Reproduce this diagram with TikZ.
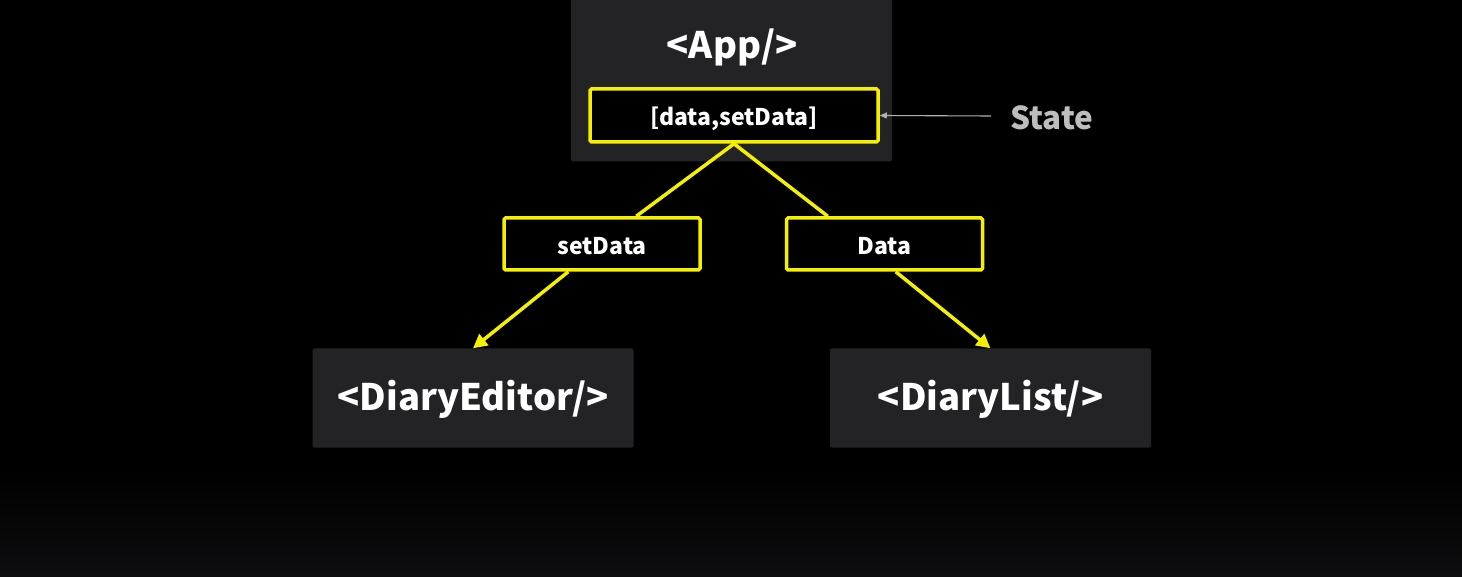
\documentclass[tikz,border=0pt]{standalone}
\usepackage{fontspec}
\setmainfont{Noto Sans CJK KR}
\usetikzlibrary{arrows.meta,calc}
\definecolor{boxgray}{HTML}{232225}
\definecolor{ylw}{HTML}{F4F000}
\definecolor{stategray}{HTML}{BDBDBD}
\definecolor{arrgray}{HTML}{B0B0B0}
\definecolor{bottomgray}{HTML}{0D0D0F}
\newcommand{\lowered}[2]{\raisebox{-#1}[\height][\depth]{#2}}
\tikzset{
  comp/.style={fill=boxgray, rounded corners=2pt, inner sep=0pt, text=white, font=\fontsize{36.5}{40}\selectfont\bfseries},
  tagbox/.style={draw=ylw, line width=3.5pt, fill=black, rounded corners=1.5pt, inner sep=0pt, text=white, font=\fontsize{23}{25}\selectfont\bfseries},
  yline/.style={draw=ylw, line width=3.5pt},
  yarrow/.style={yline, -{Triangle[length=14pt,width=14pt]}},
  garrow/.style={draw=arrgray, line width=1.1pt, -{Triangle[length=7pt,width=6pt]}}
}
\begin{document}
\begin{tikzpicture}[x=1pt,y=-1pt]
\useasboundingbox (0,0) rectangle (1462,577);
\clip (0,0) rectangle (1462,577);
\fill[black] (0,0) rectangle (1462,577);
\shade[top color=black, bottom color=bottomgray] (0,470) rectangle (1462,577);
% App component
\node[comp, minimum width=321, minimum height=181] (app) at (731.5,71) {};
\node[text=white, font=\fontsize{36.5}{40}\selectfont\bfseries] (apptitle) at (732,47) {<App/>};
\node[tagbox, minimum width=288, minimum height=53] (state) at (734,115.5) {\lowered{3pt}{[data,setData]}};
\node[text=stategray, font=\fontsize{31.5}{34}\selectfont\bfseries, anchor=west] (statelbl) at (1007,118) {State};
\draw[garrow] (statelbl.west) ++(-16,-2) coordinate (sfrom) (sfrom) -- (state.east);
% prop boxes
\node[tagbox, minimum width=196, minimum height=52] (setd) at (602,244) {\lowered{2pt}{setData}};
\node[tagbox, minimum width=196, minimum height=52] (data) at (884.5,244) {\lowered{2pt}{Data}};
% child components
\node[comp, minimum width=321, minimum height=99] (editor) at (473,398) {\lowered{1pt}{<DiaryEditor/>}};
\node[comp, minimum width=321, minimum height=99] (list) at (990.5,398) {\lowered{1pt}{<DiaryList/>}};
% connectors
\draw[yline] (state.south) -- ($(setd.north west)+(134,0)$);
\draw[yline] (state.south) -- ($(data.north west)+(43,0)$);
\draw[yarrow] ($(setd.south west)+(66,0)$) -- (editor.north);
\draw[yarrow] ($(data.south west)+(111,0)$) -- (list.north);
\end{tikzpicture}
\end{document}
